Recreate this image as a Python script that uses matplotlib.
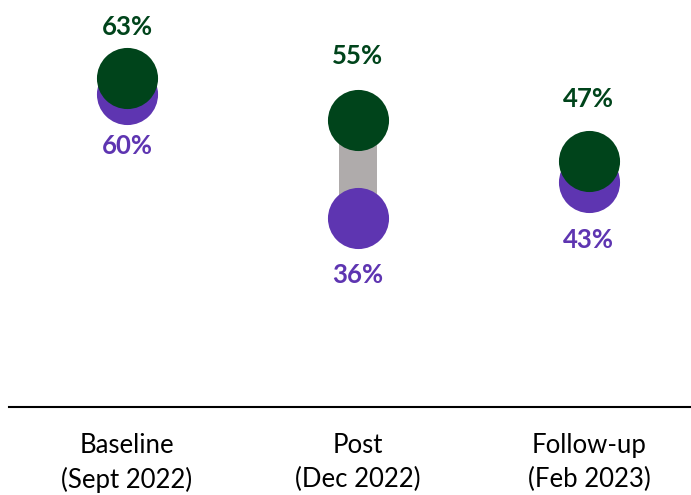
import matplotlib
matplotlib.use('Agg')
import matplotlib.pyplot as plt

categories = ['Baseline\n(Sept 2022)', 'Post\n(Dec 2022)', 'Follow-up\n(Feb 2023)']
green_vals = [63, 55, 47]
purple_vals = [60, 36, 43]

green = '#00441B'
purple = '#5E35B1'
grey = '#AFABAB'

# label offsets in points (above green, below purple)
green_off = [37, 46, 45]
purple_off = [38, 41, 42]

plt.rcParams['font.family'] = ['Lato', 'DejaVu Sans']

fig = plt.figure(figsize=(6.91, 4.95), dpi=100)
ax = fig.add_axes([9 / 691, 88 / 495, 682 / 691, 407 / 495])

x = list(range(len(categories)))
ax.bar(x, [g - p for g, p in zip(green_vals, purple_vals)], bottom=purple_vals,
       width=0.165, color=grey, zorder=1)
ax.plot(x, purple_vals, 'o', ms=44, color=purple, mec='none', zorder=2, ls='none')
ax.plot(x, green_vals, 'o', ms=44, color=green, mec='none', zorder=3, ls='none')

for i in x:
    ax.annotate(f'{green_vals[i]}%', (i, green_vals[i]), xytext=(0, green_off[i]),
                textcoords='offset points', ha='center', va='center',
                fontsize=18.5, fontweight='bold', color=green)
    ax.annotate(f'{purple_vals[i]}%', (i, purple_vals[i]), xytext=(0, -purple_off[i]),
                textcoords='offset points', ha='center', va='center',
                fontsize=18.5, fontweight='bold', color=purple)

ax.set_xlim(-0.511, 2.442)
ax.set_ylim(-0.27, 78.0)
ax.set_xticks(x)
ax.set_xticklabels(categories, fontsize=18.5, linespacing=1.4)
ax.tick_params(axis='x', length=0, pad=19)
ax.set_yticks([])
for s in ['top', 'left', 'right']:
    ax.spines[s].set_visible(False)
ax.spines['bottom'].set_linewidth(1.5)

fig.savefig('out.png', dpi=100)
